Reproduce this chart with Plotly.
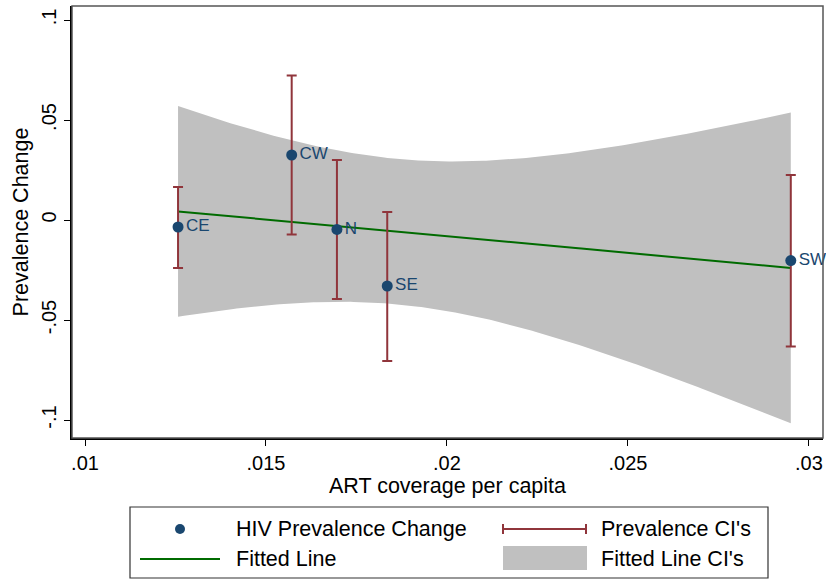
import numpy as np
import plotly.graph_objects as go

# ---- data ----
regions = ["CE", "CW", "N", "SE", "SW"]
art_coverage = [0.01257, 0.01571, 0.01696, 0.01835, 0.02950]
prev_change = [-0.0035, 0.0325, -0.0047, -0.0330, -0.0203]
ci_low = [-0.0240, -0.0072, -0.0395, -0.0705, -0.0633]
ci_high = [0.0165, 0.0723, 0.0300, 0.0040, 0.0225]

x_tick_vals = [0.01, 0.015, 0.02, 0.025, 0.03]
x_tick_text = [".01", ".015", ".02", ".025", ".03"]
y_tick_vals = [-0.1, -0.05, 0, 0.05, 0.1]
y_tick_text = ["-.1", "-.05", "0", ".05", ".1"]

# ---- colours / fonts ----
NAVY = "#1a476f"
MAROON = "#90353b"
GREEN = "#006b00"
BAND = "#c0c0c0"
FONT = "Liberation Sans, Arial, sans-serif"

# ---- linear fit with 95% CI of the mean prediction (like Stata lfitci) ----
x = np.array(art_coverage)
y = np.array(prev_change)
n = len(x)
slope, intercept = np.polyfit(x, y, 1)
resid = y - (intercept + slope * x)
s = np.sqrt(np.sum(resid ** 2) / (n - 2))
sxx = np.sum((x - x.mean()) ** 2)
T_CRIT = 3.182446  # t(0.975, df=3)
xf = np.linspace(x.min(), x.max(), 200)
yf = intercept + slope * xf
half = T_CRIT * s * np.sqrt(1.0 / n + (xf - x.mean()) ** 2 / sxx)
upper = yf + half
lower = yf - half

err_plus = [h - v for h, v in zip(ci_high, prev_change)]
err_minus = [v - l for v, l in zip(prev_change, ci_low)]

fig = go.Figure()

# CI band
fig.add_trace(go.Scatter(
    x=np.concatenate([xf, xf[::-1]]),
    y=np.concatenate([upper, lower[::-1]]),
    fill="toself", fillcolor=BAND, line=dict(width=0, color=BAND),
    mode="lines", hoverinfo="skip", showlegend=False,
))
# fitted line
fig.add_trace(go.Scatter(
    x=xf, y=yf, mode="lines", line=dict(color=GREEN, width=2),
    showlegend=False,
))
# points with CIs
fig.add_trace(go.Scatter(
    x=art_coverage, y=prev_change, mode="markers+text",
    text=regions, textposition="middle right",
    textfont=dict(family=FONT, size=17, color=NAVY),
    marker=dict(color=NAVY, size=11),
    error_y=dict(type="data", symmetric=False, array=err_plus,
                 arrayminus=err_minus, color=MAROON, thickness=2, width=5),
    cliponaxis=False,
    showlegend=False,
))

# ---- layout geometry ----
W, H = 826, 580
ML, MR, MT, MB = 72, 3, 6, 142
PW = W - ML - MR
PH = H - MT - MB


def px(xp):
    return (xp - ML) / PW


def py(yp):
    return (H - MB - yp) / PH


shapes = []
annotations = []

# plot frame
shapes.append(dict(type="rect", xref="paper", yref="paper", x0=0, x1=1, y0=0, y1=1,
                   line=dict(color="#555555", width=1.5), layer="above"))

# custom legend
shapes.append(dict(type="rect", xref="paper", yref="paper",
                   x0=px(130), x1=px(768), y0=py(507), y1=py(578),
                   line=dict(color="#333333", width=1.2), fillcolor="white"))
r1, r2 = 529, 559
shapes.append(dict(type="circle", xref="paper", yref="paper",
                   x0=px(175), x1=px(185), y0=py(r1 - 5), y1=py(r1 + 5),
                   fillcolor=NAVY, line=dict(color=NAVY, width=0)))
shapes.append(dict(type="line", xref="paper", yref="paper",
                   x0=px(140), x1=px(220), y0=py(r2), y1=py(r2),
                   line=dict(color=GREEN, width=2)))
shapes.append(dict(type="line", xref="paper", yref="paper",
                   x0=px(503), x1=px(586), y0=py(r1), y1=py(r1),
                   line=dict(color=MAROON, width=2)))
for cx in (503, 586):
    shapes.append(dict(type="line", xref="paper", yref="paper",
                       x0=px(cx), x1=px(cx), y0=py(r1 - 5), y1=py(r1 + 5),
                       line=dict(color=MAROON, width=2)))
shapes.append(dict(type="rect", xref="paper", yref="paper",
                   x0=px(503), x1=px(587), y0=py(546), y1=py(570),
                   fillcolor=BAND, line=dict(width=0)))

for label, lx, ly in [("HIV Prevalence Change", 234, r1), ("Fitted Line", 234, r2),
                      ("Prevalence CI's", 599, r1), ("Fitted Line CI's", 599, r2)]:
    annotations.append(dict(text=label, xref="paper", yref="paper", x=px(lx), y=py(ly),
                            xanchor="left", yanchor="middle", showarrow=False,
                            font=dict(family=FONT, size=21.5, color="black")))

fig.update_layout(
    width=W, height=H,
    margin=dict(l=ML, r=MR, t=MT, b=MB, pad=0),
    paper_bgcolor="white", plot_bgcolor="white",
    font=dict(family=FONT, size=20, color="black"),
    shapes=shapes, annotations=annotations,
    showlegend=False,
)
fig.update_xaxes(
    range=[0.00964, 0.03039], tickvals=x_tick_vals, ticktext=x_tick_text,
    ticks="outside", ticklen=6, tickwidth=1.2, tickcolor="black",
    showline=True, linecolor="black", linewidth=1.5, showgrid=False, zeroline=False,
    tickfont=dict(family=FONT, size=20, color="black"),
    title=dict(text="ART coverage per capita", standoff=2,
               font=dict(family=FONT, size=21.5, color="black")),
)
fig.update_yaxes(
    range=[-0.109, 0.107], tickvals=y_tick_vals, ticktext=y_tick_text,
    ticks="outside", ticklen=6, tickwidth=1.2, tickcolor="black", tickangle=-90,
    showline=True, linecolor="black", linewidth=1.5, showgrid=False, zeroline=False,
    tickfont=dict(family=FONT, size=20, color="black"),
    title=dict(text="Prevalence Change", standoff=4,
               font=dict(family=FONT, size=21.5, color="black")),
)

fig.write_html(
    "out.html",
    config={"displayModeBar": False},
    post_script="document.body.style.margin='0';document.body.style.overflow='hidden';",
)
